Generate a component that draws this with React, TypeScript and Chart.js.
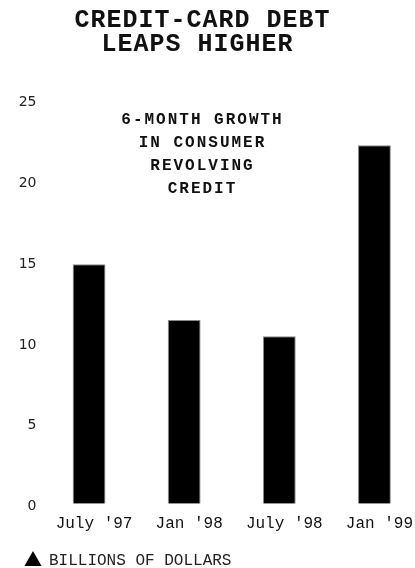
import React, { useEffect, useRef } from "react";
import { Chart, registerables } from "chart.js";

Chart.register(...registerables);

const CATEGORIES = ["July '97", "Jan '98", "July '98", "Jan '99"];
const VALUES = [14.8, 11.35, 10.35, 22.15];
const SERIES_LABEL = "BILLIONS OF DOLLARS";
const TITLE_LINES = ["CREDIT-CARD DEBT", "LEAPS HIGHER"];
const NOTE_LINES = ["6-MONTH GROWTH", "IN CONSUMER", "REVOLVING", "CREDIT"];
const Y_MIN = 0;
const Y_MAX = 25;
const Y_STEP = 5;

const MONO = '"Courier New", "Liberation Mono", monospace';

const textPlugin = {
  id: "headlineText",
  afterDraw(chart: any) {
    const ctx = chart.ctx as CanvasRenderingContext2D;
    ctx.save();
    ctx.fillStyle = "#111";
    ctx.textAlign = "center";
    ctx.textBaseline = "middle";
    // main title
    ctx.font = `bold 25px ${MONO}`;
    (ctx as any).letterSpacing = "1px";
    const titleX = [202.5, 197.5];
    TITLE_LINES.forEach((line, i) => {
      ctx.fillText(line, titleX[i] ?? 200, 20.5 + i * 24.5);
    });
    // inner note
    ctx.font = `bold 16px ${MONO}`;
    (ctx as any).letterSpacing = "2px";
    NOTE_LINES.forEach((line, i) => {
      ctx.fillText(line, 202.5, 119.5 + i * 23);
    });
    (ctx as any).letterSpacing = "0px";
    ctx.restore();
  },
};

export default function App() {
  const ref = useRef<HTMLCanvasElement | null>(null);

  useEffect(() => {
    if (!ref.current) return;
    const chart = new Chart(ref.current, {
      type: "bar",
      data: {
        labels: CATEGORIES,
        datasets: [
          {
            label: SERIES_LABEL,
            data: VALUES,
            backgroundColor: "#000",
            borderColor: "#8a8a8a",
            borderWidth: 1,
            barPercentage: 0.345,
            categoryPercentage: 1,
          },
        ],
      },
      options: {
        animation: false,
        responsive: false,
        devicePixelRatio: 1,
        layout: { padding: { left: 15, right: 8, top: 99, bottom: 0 } },
        plugins: {
          title: { display: false },
          tooltip: { enabled: false },
          legend: {
            display: true,
            position: "bottom",
            align: "start",
            labels: {
              usePointStyle: true,
              pointStyle: "triangle",
              boxWidth: 17,
              boxHeight: 14,
              padding: 10,
              color: "#222",
              font: { family: MONO, size: 16 },
              generateLabels: (c: any) =>
                Chart.defaults.plugins.legend.labels
                  .generateLabels(c)
                  .map((l: any) => ({ ...l, fillStyle: "#000", strokeStyle: "#000", lineWidth: 0 })),
            },
          },
        },
        scales: {
          x: {
            grid: { display: false, drawTicks: false },
            border: { display: false },
            ticks: {
              color: "#111",
              padding: 10,
              labelOffset: 5,
              autoSkip: false,
              maxRotation: 0,
              font: { family: MONO, size: 16 },
            },
          },
          y: {
            min: Y_MIN,
            max: Y_MAX,
            grid: { display: false, drawTicks: false },
            border: { display: false },
            ticks: {
              stepSize: Y_STEP,
              color: "#222",
              padding: 5,
              labelOffset: 3,
              font: { family: '"DejaVu Sans", sans-serif', size: 14 },
            },
            afterFit: (scale: any) => {
              scale.width = 26.5;
            },
          },
        },
      },
      plugins: [textPlugin],
    });
    return () => chart.destroy();
  }, []);

  return (
    <div
      style={{
        position: "fixed",
        left: 0,
        top: 0,
        width: 415,
        height: 568,
        overflow: "hidden",
        background: "#fff",
      }}
    >
      <canvas ref={ref} width={430} height={579} style={{ display: "block", width: 430, height: 579 }} />
    </div>
  );
}
